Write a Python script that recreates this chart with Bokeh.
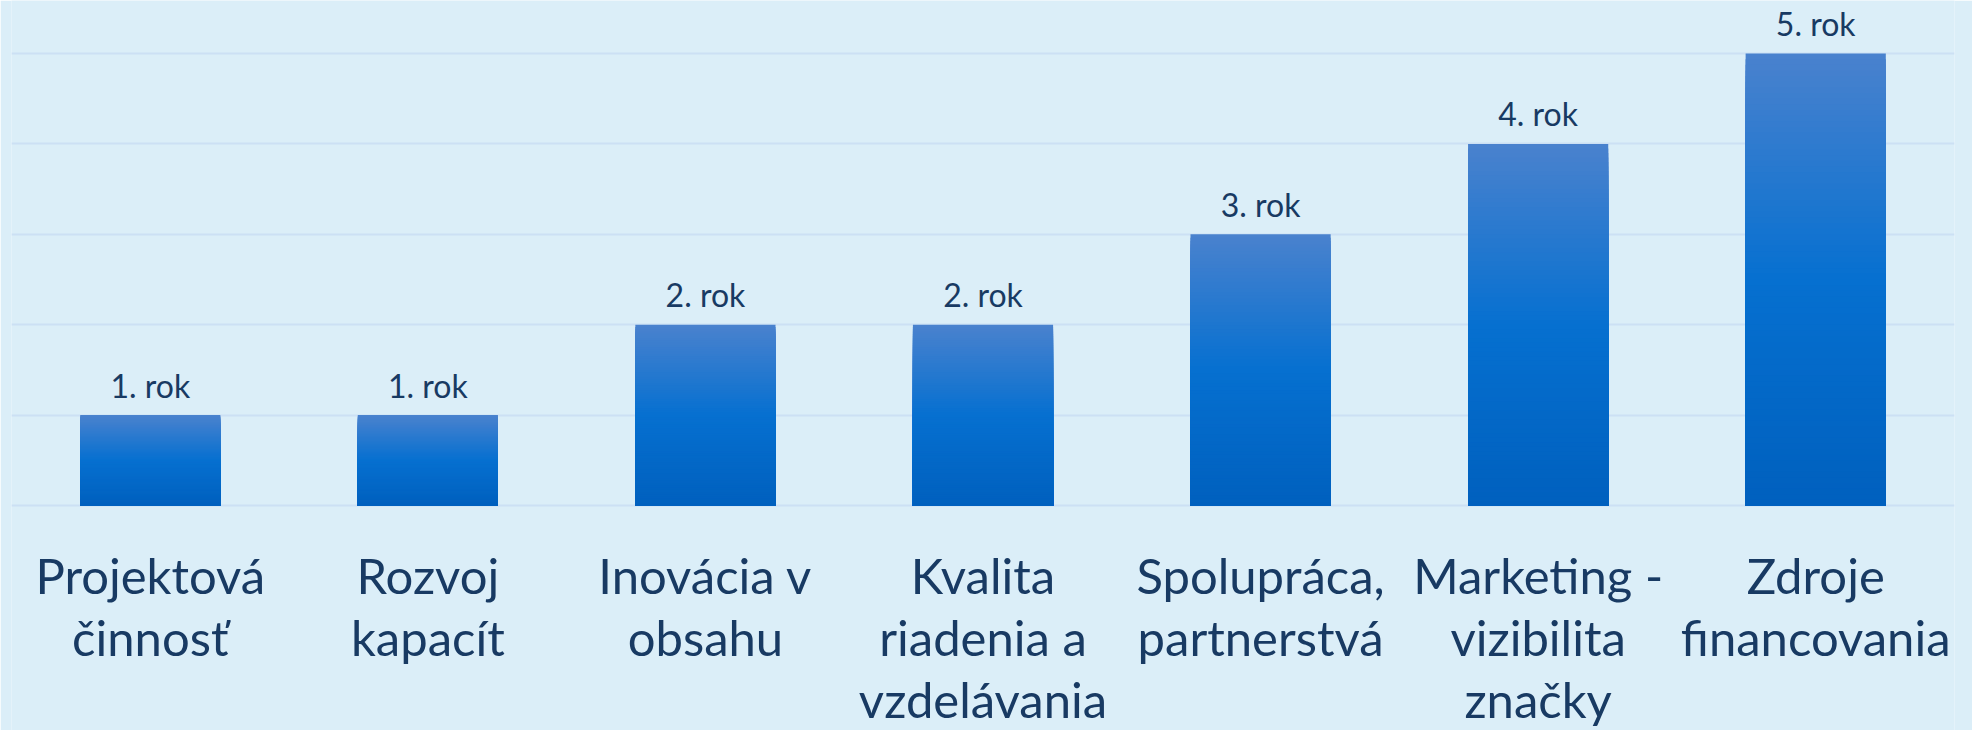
from bokeh.plotting import figure
from bokeh.models import FactorRange, Range1d, FixedTicker, ColumnDataSource
from bokeh.core.properties import value
from bokeh.embed import file_html
from bokeh.resources import INLINE

# ---- data ----
categories = ["Projektová\nčinnosť", "Rozvoj\nkapacít", "Inovácia v\nobsahu",
              "Kvalita\nriadenia a\nvzdelávania", "Spolupráca,\npartnerstvá",
              "Marketing -\nvizibilita\nznačky", "Zdroje\nfinancovania"]
years = [1, 1, 2, 2, 3, 4, 5]
year_labels = ["1. rok", "1. rok", "2. rok", "2. rok", "3. rok", "4. rok", "5. rok"]
y_ticks = [0, 1, 2, 3, 4, 5]

BG = "#DBEEF8"
TXT = "#183A63"
GRID = "#CCE0F4"

PX_PER_UNIT = 90.4
p = figure(x_range=FactorRange(*categories),
           y_range=Range1d(-(730 - 505) / PX_PER_UNIT, 505 / PX_PER_UNIT),
           width=1972, height=730, output_backend="svg", toolbar_location=None,
           min_border=0, min_border_left=11, min_border_right=18)
p.background_fill_color = BG
p.border_fill_color = BG
p.outline_line_color = None

# gradient bars: each bar drawn as overlapping layers (tallest first) shaded along its own height
N = 80
stops = [(0.0, (0, 96, 190)), (0.5, (6, 112, 208)), (1.0, (74, 130, 206))]

def grad(t):
    for (t0, c0), (t1, c1) in zip(stops[:-1], stops[1:]):
        if t <= t1:
            f = (t - t0) / (t1 - t0)
            return "#%02x%02x%02x" % tuple(int(round(a + (b - a) * f)) for a, b in zip(c0, c1))
    return "#%02x%02x%02x" % stops[-1][1]

xs, tops, cols = [], [], []
for k in range(N - 1, -1, -1):
    for c, v in zip(categories, years):
        xs.append(c)
        tops.append(v * (k + 1) / N)
        cols.append(grad((k + 0.5) / N))
src = ColumnDataSource(dict(x=xs, top=tops, color=cols))
p.vbar(x="x", bottom=0, top="top", width=0.505, source=src,
       fill_color="color", line_color=None)

lab = ColumnDataSource(dict(x=categories, y=years, t=year_labels))
p.text(x="x", y="y", text="t", source=lab, text_align="center", text_baseline="alphabetic",
       y_offset=-30, text_font=value("Lato"), text_font_size="32px", text_color=TXT)

# category labels under the baseline
cat = ColumnDataSource(dict(x=categories, y=[0] * len(categories), t=categories))
p.text(x="x", y="y", text="t", source=cat, text_align="center", text_baseline="top",
       y_offset=40, text_font=value("Lato"), text_font_size="49px", text_color=TXT,
       text_line_height=1.07)

# grid
p.xgrid.grid_line_color = None
p.ygrid.ticker = FixedTicker(ticks=y_ticks)
p.ygrid.grid_line_color = GRID
p.ygrid.grid_line_width = 2

p.xaxis.visible = False
p.yaxis.visible = False

open("out.html", "w").write(file_html(p, INLINE))
